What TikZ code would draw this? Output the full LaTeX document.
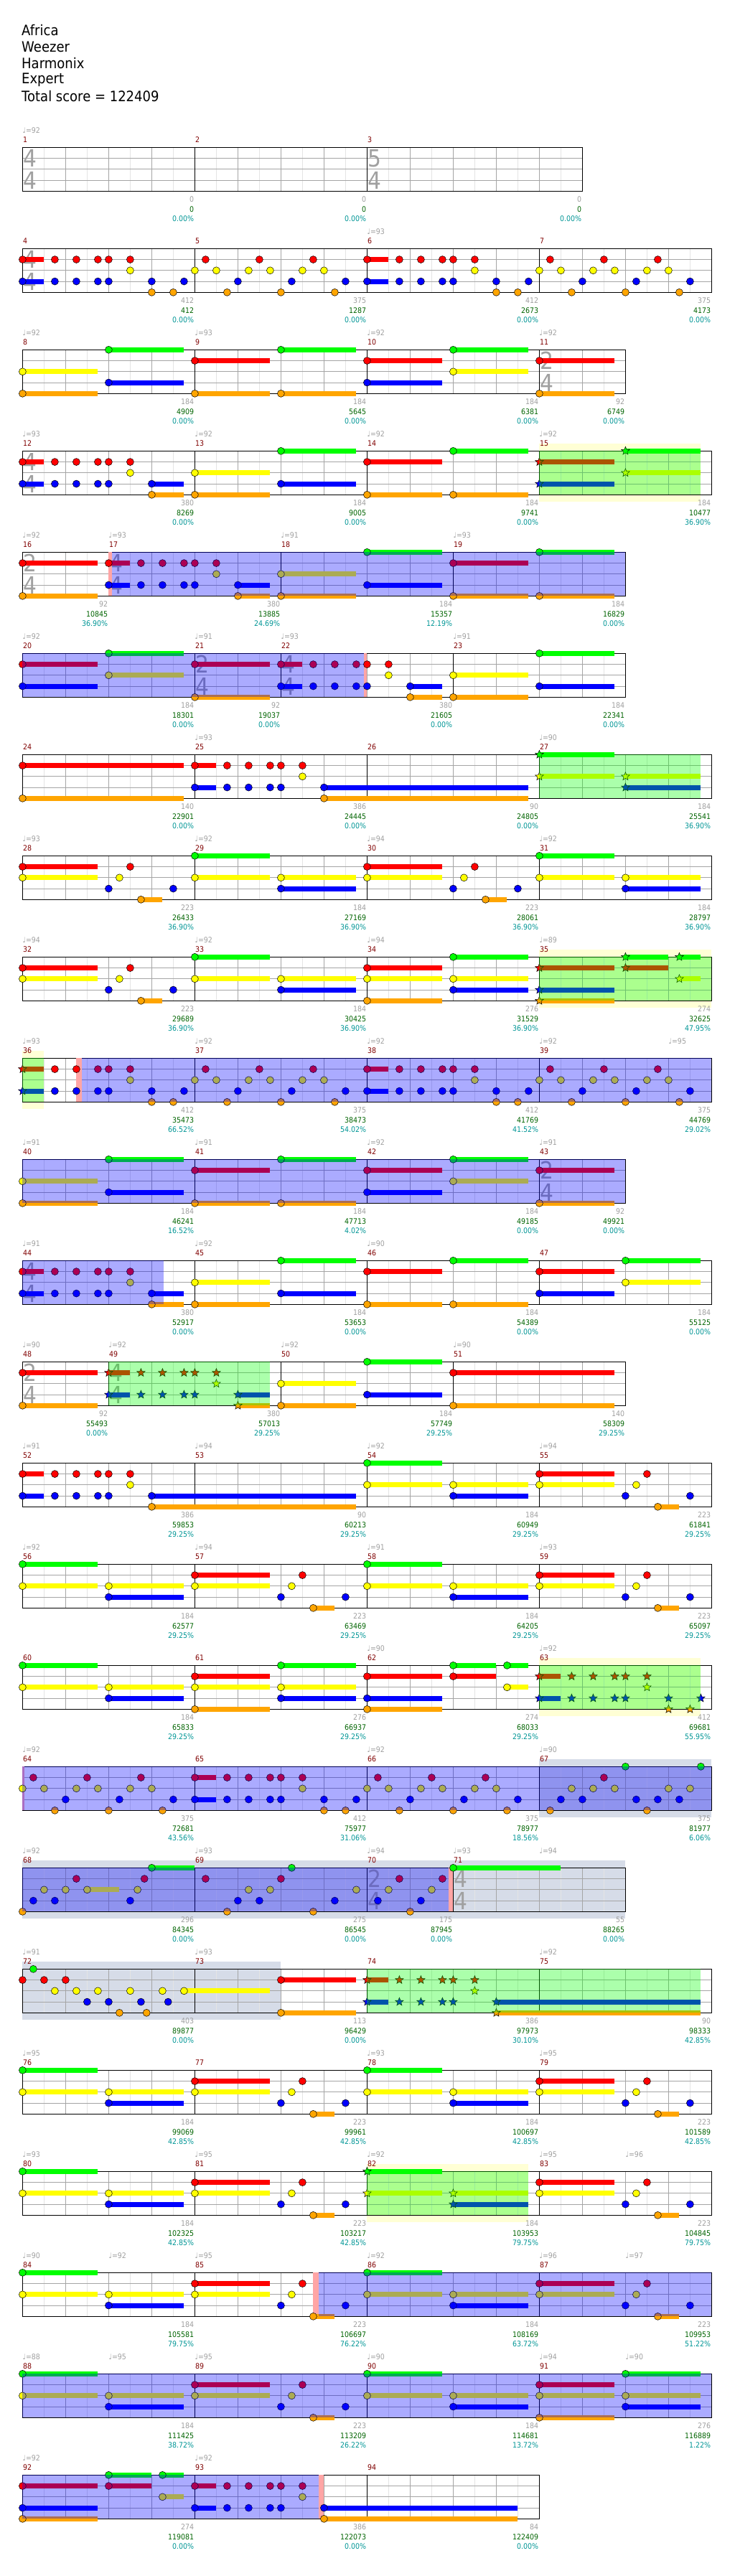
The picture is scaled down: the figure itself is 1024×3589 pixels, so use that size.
\documentclass[tikz,border=0pt]{standalone}
\usepackage{fontspec}
\setmainfont{DejaVu Sans}[FakeStretch=0.9]

\definecolor{fretG}{RGB}{0,255,0}
\definecolor{fretR}{RGB}{255,0,0}
\definecolor{fretY}{RGB}{255,255,0}
\definecolor{fretB}{RGB}{0,0,255}
\definecolor{fretO}{RGB}{255,165,0}
\colorlet{lane0}{fretG}
\colorlet{lane1}{fretR}
\colorlet{lane2}{fretY}
\colorlet{lane3}{fretB}
\colorlet{lane4}{fretO}
\definecolor{barnum}{RGB}{128,0,0}
\definecolor{ptsgray}{RGB}{160,160,160}
\definecolor{ptsgreen}{RGB}{0,100,0}
\definecolor{pcteal}{RGB}{0,150,150}
\definecolor{phraseyel}{RGB}{255,255,213}
\definecolor{soloblue}{RGB}{214,220,232}
\definecolor{spred}{RGB}{255,165,165}
\definecolor{gridlt}{RGB}{228,228,228}
\definecolor{gridmd}{RGB}{165,165,165}

\newcommand\smallf{\fontsize{10.5}{12}\selectfont}
\newcommand\titlef{\fontsize{20}{24}\selectfont}
\newcommand\sigf{\fontsize{33}{36}\selectfont}

\tikzset{
  row/.style={xshift=31.4pt, yshift={-205.3pt-(#1-1)*141pt}, x=60pt, y=-15.25pt},
  songinfo/.style={anchor=west, inner sep=0pt, font=\titlef},
  halfline/.style={draw=gridlt, line width=.6pt},
  beatline/.style={draw=gridmd, line width=.6pt},
  laneline/.style={draw=gridmd, line width=.9pt},
  barline/.style={draw=black, line width=.6pt},
  frame/.style={draw=black, line width=1pt},
  sustain/.style={line width=7pt},
  gemhead/.style={draw=black, line width=.5pt},
  spact/.style={fill=blue, fill opacity=.33},
  spphrase/.style={fill=fretG, fill opacity=.33},
  tsig/.style={anchor=base west, inner sep=0pt, xshift=1pt, text=ptsgray, font=\sigf},
  barno/.style={anchor=west, inner sep=0pt, xshift=.5pt, yshift=11pt, text=barnum, font=\smallf},
  tempo/.style={anchor=west, inner sep=0pt, yshift=24pt, text=ptsgray, font=\smallf},
  pts/.style={anchor=east, inner sep=0pt, xshift=-1pt, yshift=-11pt, text=ptsgray, font=\smallf},
  tot/.style={pts, yshift=-14pt, text=ptsgreen},
  pct/.style={pts, yshift=-27pt, text=pcteal}
}

% one fret gem: lane, beat, sustain length
\newcommand\gem[3]{%
  \ifdim #3pt>0pt \draw[sustain, draw=lane#1] (#2,#1) -- ++(#3,0);\fi
  \filldraw[gemhead, fill=lane#1] (#2,#1) circle (5pt);}
% star power gem
\newcommand\sgem[3]{%
  \ifdim #3pt>0pt \draw[sustain, draw=lane#1] (#2,#1) -- ++(#3,0);\fi
  \filldraw[gemhead, fill=lane#1] (#2,#1) +(90:6pt) -- +(126:2.6pt) -- +(162:6pt) -- +(198:2.6pt) -- +(234:6pt) -- +(270:2.6pt) -- +(306:6pt) -- +(342:2.6pt) -- +(18:6pt) -- +(54:2.6pt) -- cycle;}
\newcommand\gems[3][\gem]{%
  \foreach \gl/\gb/\gs in {#3}{\pgfmathsetmacro\bb{\gb+#2}#1{\gl}{\bb}{\gs}}}

% recurring riffs
\newcommand\riffA[2][\gem]{\gems[#1]{#2}{1/0/.5,1/.75/0,1/1.25/0,1/1.75/0,1/2/0,1/2.5/0,2/2.5/0,3/0/.5,3/.75/0,3/1.25/0,3/1.75/0,3/2/0}}
\newcommand\riffAt[2][\gem]{\gems[#1]{#2}{3/3/0,3/3.75/0,4/3/0,4/3.5/0}}
\newcommand\riffB[2][\gem]{\gems[#1]{#2}{1/.25/0,1/1.5/0,1/2.75/0,2/0/0,2/.5/0,2/1.25/0,2/1.75/0,2/2.5/0,2/3/0,3/1/0,3/2.25/0,3/3.5/0,4/.75/0,4/2/0,4/3.25/0}}
\newcommand\riffC[2][\gem]{\gems[#1]{#2}{1/0/1.75,2/0/1.75,3/2/0,2/2.25/0,1/2.5/0,4/2.75/.5,3/3.5/0}}
\newcommand\riffD[2][\gem]{\gems[#1]{#2}{0/0/1.75,2/0/1.75,2/2/1.75,3/2/1.75}}
\newcommand\riffE[2][\gem]{\gems[#1]{#2}{1/0/1.75,2/0/1.75,4/0/1.75,0/2/1.75,2/2/1.75,3/2/1.75}}
\newcommand\riffF[2][\gem]{\gems[#1]{#2}{1/0/1.75,3/0/1.75,4/0/1.75,0/2/1,1/2/1,0/3.25/.5,2/3.25/.5}}
\newcommand\riffG[2][\gem]{\gems[#1]{#2}{2/0/1.75,4/0/1.75,0/2/1.75,3/2/1.75}}
\newcommand\riffH[2][\gem]{\gems[#1]{#2}{1/0/1.75,4/0/1.75,0/2/1.75,4/2/1.75}}
\newcommand\riffI[2][\gem]{\gems[#1]{#2}{1/0/1.75,3/0/1.75,0/2/1.75,2/2/1.75}}
\newcommand\riffJ[2][\gem]{\gems[#1]{#2}{1/0/1.75,4/0/1.75}}

% staff: width in beats, measure lines
\newcommand\staff[2]{%
  \pgfmathtruncatemacro\nhalf{2*#1}
  \foreach \i in {1,...,\nhalf}{\draw[halfline] (\i/2,0) -- (\i/2,4);}
  \foreach \i in {1,...,#1}{\draw[beatline] (\i,0) -- (\i,4);}
  \foreach \i in {1,2,3}{\draw[laneline] (0,\i) -- (#1,\i);}
  \foreach \i in {#2}{\draw[barline] (\i,0) -- (\i,4);}
  \draw[frame] (0,0) rectangle (#1,4);}
\newcommand\tsig[4]{\node[tsig] (sig#4a) at (#1,1.77) {#2}; \node[tsig] (sig#4b) at (#1,3.8) {#3};}
\newcommand\spon[2]{\fill[spact] (#1,0) rectangle (#2,4);}
\newcommand\phrase[2]{\fill[spphrase] (#1,0) rectangle (#2,4);}
\newcommand\phrasebg[2]{\fill[phraseyel] (#1,-.66) rectangle (#2,4.66);}
\newcommand\solobg[2]{\fill[soloblue] (#1,-.66) rectangle (#2,4.66);}
\newcommand\spmark[2]{\fill[spred] (#1,0) rectangle (#2,4);}
\newcommand\meas[3]{\node[barno] (m#2) at (#1,0) {#2};
  \if\relax\detokenize{#3}\relax\else\node[tempo] (t#2) at (#1,0) {♩=#3};\fi}
\newcommand\tempoat[3]{\node[tempo] (#1) at (#2,0) {♩=#3};}
\newcommand\tally[5]{\node[pts] (p#2) at (#1,4) {#3};
  \node[tot] (s#2) at (#1,4) {#4};
  \node[pct] (c#2) at (#1,4) {#5\%};}

\begin{document}
\begin{tikzpicture}
\fill[white] (0,0) rectangle (1024pt,-3589pt);
\useasboundingbox (0,0) rectangle (1024pt,-3589pt);

\node[songinfo] (song) at (30pt,-42pt) {Africa};
\node[songinfo] (band) at (30pt,-65pt) {Weezer};
\node[songinfo] (chart) at (30pt,-88pt) {Harmonix};
\node[songinfo] (level) at (30pt,-111pt) {Expert};
\node[songinfo] (score) at (30pt,-134pt) {Total score = 122409};

% 1-3
\begin{scope}[row=1]
  \staff{13}{4,8}
  \tsig{0}{4}{4}{1}\tsig{8}{5}{4}{3}
  \meas{0}{1}{92}\meas{4}{2}{}\meas{8}{3}{}
  \tally{4}{1}{0}{0}{0.00}\tally{8}{2}{0}{0}{0.00}\tally{13}{3}{0}{0}{0.00}
\end{scope}

% 4-7
\begin{scope}[row=2]
  \staff{16}{4,8,12}
  \tsig{0}{4}{4}{4}
  \riffA{0}\riffAt{0}\riffB{4}\riffA{8}\riffAt{8}\riffB{12}
  \meas{0}{4}{}\meas{4}{5}{}\meas{8}{6}{93}\meas{12}{7}{}
  \tally{4}{4}{412}{412}{0.00}\tally{8}{5}{375}{1287}{0.00}\tally{12}{6}{412}{2673}{0.00}\tally{16}{7}{375}{4173}{0.00}
\end{scope}

% 8-11
\begin{scope}[row=3]
  \staff{14}{4,8,12}
  \tsig{12}{2}{4}{11}
  \riffG{0}\riffH{4}\riffI{8}\riffJ{12}
  \meas{0}{8}{92}\meas{4}{9}{93}\meas{8}{10}{92}\meas{12}{11}{92}
  \tally{4}{8}{184}{4909}{0.00}\tally{8}{9}{184}{5645}{0.00}\tally{12}{10}{184}{6381}{0.00}\tally{14}{11}{92}{6749}{0.00}
\end{scope}

% 12-15
\begin{scope}[row=4]
  \phrasebg{12}{15.75}
  \staff{16}{4,8,12}
  \tsig{0}{4}{4}{12}
  \riffA{0}\gems{0}{3/3/.75,4/3/.75}\riffG{4}\riffH{8}\riffI[\sgem]{12}
  \phrase{12}{15.75}
  \meas{0}{12}{93}\meas{4}{13}{92}\meas{8}{14}{92}\meas{12}{15}{92}
  \tally{4}{12}{380}{8269}{0.00}\tally{8}{13}{184}{9005}{0.00}\tally{12}{14}{184}{9741}{0.00}\tally{16}{15}{184}{10477}{36.90}
\end{scope}

% 16-19
\begin{scope}[row=5]
  \staff{14}{2,6,10}
  \tsig{0}{2}{4}{16}\tsig{2}{4}{4}{17}
  \spmark{2}{2.08}
  \riffJ{0}\riffA{2}\gems{2}{3/3/.75,4/3/.75}\riffG{6}\riffH{10}
  \spon{2.08}{14}
  \meas{0}{16}{92}\meas{2}{17}{93}\meas{6}{18}{91}\meas{10}{19}{93}
  \tally{2}{16}{92}{10845}{36.90}\tally{6}{17}{380}{13885}{24.69}\tally{10}{18}{184}{15357}{12.19}\tally{14}{19}{184}{16829}{0.00}
\end{scope}

% 20-23
\begin{scope}[row=6]
  \staff{14}{4,6,10}
  \tsig{4}{2}{4}{21}\tsig{6}{4}{4}{22}
  \spmark{7.92}{8}
  \riffI{0}\riffJ{4}\riffA{6}\gems{6}{3/3/.75,4/3/.75}\riffG{10}
  \spon{0}{7.92}
  \meas{0}{20}{92}\meas{4}{21}{91}\meas{6}{22}{93}\meas{10}{23}{91}
  \tally{4}{20}{184}{18301}{0.00}\tally{6}{21}{92}{19037}{0.00}\tally{10}{22}{380}{21605}{0.00}\tally{14}{23}{184}{22341}{0.00}
\end{scope}

% 24-27
\begin{scope}[row=7]
  \staff{16}{4,8,12}
  \gems{0}{1/0/3.75,4/0/3.75}\riffA{4}\gems{4}{3/3/4.75,4/3/4.75}\riffD[\sgem]{12}
  \phrase{12}{15.75}
  \meas{0}{24}{}\meas{4}{25}{93}\meas{8}{26}{}\meas{12}{27}{90}
  \tally{4}{24}{140}{22901}{0.00}\tally{8}{25}{386}{24445}{0.00}\tally{12}{26}{90}{24805}{0.00}\tally{16}{27}{184}{25541}{36.90}
\end{scope}

% 28-31
\begin{scope}[row=8]
  \staff{16}{4,8,12}
  \riffC{0}\riffD{4}\riffC{8}\riffD{12}
  \meas{0}{28}{93}\meas{4}{29}{92}\meas{8}{30}{94}\meas{12}{31}{92}
  \tally{4}{28}{223}{26433}{36.90}\tally{8}{29}{184}{27169}{36.90}\tally{12}{30}{223}{28061}{36.90}\tally{16}{31}{184}{28797}{36.90}
\end{scope}

% 32-35
\begin{scope}[row=9]
  \phrasebg{12}{16}
  \staff{16}{4,8,12}
  \riffC{0}\riffD{4}\riffE{8}\riffF[\sgem]{12}
  \phrase{12}{16}
  \meas{0}{32}{94}\meas{4}{33}{92}\meas{8}{34}{94}\meas{12}{35}{89}
  \tally{4}{32}{223}{29689}{36.90}\tally{8}{33}{184}{30425}{36.90}\tally{12}{34}{276}{31529}{36.90}\tally{16}{35}{274}{32625}{47.95}
\end{scope}

% 36-39
\begin{scope}[row=10]
  \phrasebg{0}{.5}
  \staff{16}{4,8,12}
  \spmark{1.25}{1.38}
  \gems[\sgem]{0}{1/0/.5,3/0/.5}
  \gems{0}{1/.75/0,1/1.25/0,1/1.75/0,1/2/0,1/2.5/0,2/2.5/0,3/.75/0,3/1.25/0,3/1.75/0,3/2/0}
  \riffAt{0}\riffB{4}\riffA{8}\riffAt{8}\riffB{12}
  \phrase{0}{.5}\spon{1.38}{16}
  \meas{0}{36}{93}\meas{4}{37}{92}\meas{8}{38}{92}\meas{12}{39}{92}\tempoat{t39b}{15}{95}
  \tally{4}{36}{412}{35473}{66.52}\tally{8}{37}{375}{38473}{54.02}\tally{12}{38}{412}{41769}{41.52}\tally{16}{39}{375}{44769}{29.02}
\end{scope}

% 40-43
\begin{scope}[row=11]
  \staff{14}{4,8,12}
  \tsig{12}{2}{4}{43}
  \riffG{0}\riffH{4}\riffI{8}\riffJ{12}
  \spon{0}{14}
  \meas{0}{40}{91}\meas{4}{41}{91}\meas{8}{42}{92}\meas{12}{43}{91}
  \tally{4}{40}{184}{46241}{16.52}\tally{8}{41}{184}{47713}{4.02}\tally{12}{42}{184}{49185}{0.00}\tally{14}{43}{92}{49921}{0.00}
\end{scope}

% 44-47
\begin{scope}[row=12]
  \staff{16}{4,8,12}
  \tsig{0}{4}{4}{44}
  \riffA{0}\gems{0}{3/3/.75,4/3/.75}\riffG{4}\riffH{8}\riffI{12}
  \spon{0}{3.27}
  \meas{0}{44}{91}\meas{4}{45}{92}\meas{8}{46}{90}\meas{12}{47}{}
  \tally{4}{44}{380}{52917}{0.00}\tally{8}{45}{184}{53653}{0.00}\tally{12}{46}{184}{54389}{0.00}\tally{16}{47}{184}{55125}{0.00}
\end{scope}

% 48-51
\begin{scope}[row=13]
  \staff{14}{2,6,10}
  \tsig{0}{2}{4}{48}\tsig{2}{4}{4}{49}
  \riffJ{0}\riffA[\sgem]{2}\gems[\sgem]{2}{3/3/.75,4/3/.75}\riffG{6}\gems{10}{1/0/3.75,4/0/3.75}
  \phrase{2}{5.75}
  \meas{0}{48}{90}\meas{2}{49}{92}\meas{6}{50}{92}\meas{10}{51}{90}
  \tally{2}{48}{92}{55493}{0.00}\tally{6}{49}{380}{57013}{29.25}\tally{10}{50}{184}{57749}{29.25}\tally{14}{51}{140}{58309}{29.25}
\end{scope}

% 52-55
\begin{scope}[row=14]
  \staff{16}{4,8,12}
  \riffA{0}\gems{0}{3/3/4.75,4/3/4.75}\riffD{8}\riffC{12}
  \meas{0}{52}{91}\meas{4}{53}{94}\meas{8}{54}{92}\meas{12}{55}{94}
  \tally{4}{52}{386}{59853}{29.25}\tally{8}{53}{90}{60213}{29.25}\tally{12}{54}{184}{60949}{29.25}\tally{16}{55}{223}{61841}{29.25}
\end{scope}

% 56-59
\begin{scope}[row=15]
  \staff{16}{4,8,12}
  \riffD{0}\riffC{4}\riffD{8}\riffC{12}
  \meas{0}{56}{92}\meas{4}{57}{94}\meas{8}{58}{91}\meas{12}{59}{93}
  \tally{4}{56}{184}{62577}{29.25}\tally{8}{57}{223}{63469}{29.25}\tally{12}{58}{184}{64205}{29.25}\tally{16}{59}{223}{65097}{29.25}
\end{scope}

% 60-63
\begin{scope}[row=16]
  \phrasebg{12}{15.75}
  \staff{16}{4,8,12}
  \riffD{0}\riffE{4}\riffF{8}\riffA[\sgem]{12}\riffAt[\sgem]{12}
  \phrase{12}{15.75}
  \meas{0}{60}{}\meas{4}{61}{}\meas{8}{62}{90}\meas{12}{63}{92}
  \tally{4}{60}{184}{65833}{29.25}\tally{8}{61}{276}{66937}{29.25}\tally{12}{62}{274}{68033}{29.25}\tally{16}{63}{412}{69681}{55.95}
\end{scope}

% 64-67
\begin{scope}[row=17]
  \solobg{12}{16}
  \staff{16}{4,8,12}
  \spmark{0}{.05}
  \riffB{0}\riffA{4}\riffAt{4}\riffB{8}
  \gems{12}{0/2/0,0/3.75/0,1/1.5/0,2/.75/0,2/1.25/0,2/1.75/0,2/3/0,2/3.5/0,3/.5/0,3/1/0,3/2.25/0,3/2.75/0,3/3.25/0,4/.25/0,4/2.5/0}
  \spon{0}{16}
  \meas{0}{64}{92}\meas{4}{65}{}\meas{8}{66}{92}\meas{12}{67}{90}
  \tally{4}{64}{375}{72681}{43.56}\tally{8}{65}{412}{75977}{31.06}\tally{12}{66}{375}{78977}{18.56}\tally{16}{67}{375}{81977}{6.06}
\end{scope}

% 68-71
\begin{scope}[row=18]
  \solobg{0}{14}
  \staff{14}{4,8,10}
  \tsig{8}{2}{4}{70}\tsig{10}{4}{4}{71}
  \spmark{9.9}{10}
  \gems{0}{4/0/0,3/.25/0,3/.75/0,3/2.5/0,2/.5/0,2/1/0,2/1.5/.75,2/2.67/0,1/1.25/0,1/2.83/0,0/3/1}
  \gems{4}{1/.25/0,1/2/0,2/1.25/0,2/1.75/0,2/3.75/0,3/1/0,3/1.5/0,3/3.25/0,4/.75/0,4/2.75/0,0/2.25/0}
  \gems{8}{1/.75/0,1/1.75/0,2/.5/0,2/1.5/0,3/.25/0,3/1.25/0,4/1/0,0/2/2.5}
  \spon{0}{9.9}
  \meas{0}{68}{92}\meas{4}{69}{93}\meas{8}{70}{94}\meas{10}{71}{93}\tempoat{t71b}{12}{94}
  \tally{4}{68}{296}{84345}{0.00}\tally{8}{69}{275}{86545}{0.00}\tally{10}{70}{175}{87945}{0.00}\tally{14}{71}{55}{88265}{0.00}
\end{scope}

% 72-75
\begin{scope}[row=19]
  \solobg{0}{6}
  \staff{16}{4,8,12}
  \gems{0}{1/0/0,1/.5/0,1/1/0,0/.25/0,2/.75/0,2/1.25/0,2/1.75/0,2/2.5/0,2/3.25/0,2/3.75/2,3/1.5/0,3/2/0,3/2.75/0,3/3.38/0,4/2.25/0,4/2.88/0}
  \riffJ{6}\riffA[\sgem]{8}\gems[\sgem]{8}{3/3/4.75,4/3/4.75}
  \phrase{8}{15.75}
  \meas{0}{72}{91}\meas{4}{73}{93}\meas{8}{74}{}\meas{12}{75}{92}
  \tally{4}{72}{403}{89877}{0.00}\tally{8}{73}{113}{96429}{0.00}\tally{12}{74}{386}{97973}{30.10}\tally{16}{75}{90}{98333}{42.85}
\end{scope}

% 76-79
\begin{scope}[row=20]
  \staff{16}{4,8,12}
  \riffD{0}\riffC{4}\riffD{8}\riffC{12}
  \meas{0}{76}{95}\meas{4}{77}{}\meas{8}{78}{93}\meas{12}{79}{95}
  \tally{4}{76}{184}{99069}{42.85}\tally{8}{77}{223}{99961}{42.85}\tally{12}{78}{184}{100697}{42.85}\tally{16}{79}{223}{101589}{42.85}
\end{scope}

% 80-83
\begin{scope}[row=21]
  \phrasebg{8}{11.75}
  \staff{16}{4,8,12}
  \riffD{0}\riffC{4}\riffD[\sgem]{8}\riffC{12}
  \phrase{8}{11.75}
  \meas{0}{80}{93}\meas{4}{81}{95}\meas{8}{82}{92}\meas{12}{83}{95}\tempoat{t83b}{14}{96}
  \tally{4}{80}{184}{102325}{42.85}\tally{8}{81}{223}{103217}{42.85}\tally{12}{82}{184}{103953}{79.75}\tally{16}{83}{223}{104845}{79.75}
\end{scope}

% 84-87
\begin{scope}[row=22]
  \staff{16}{4,8,12}
  \spmark{6.75}{6.87}
  \riffD{0}\riffC{4}\riffD{8}\riffC{12}
  \spon{6.87}{16}
  \meas{0}{84}{90}\meas{4}{85}{95}\meas{8}{86}{92}\meas{12}{87}{96}\tempoat{t84b}{2}{92}\tempoat{t87b}{14}{97}
  \tally{4}{84}{184}{105581}{79.75}\tally{8}{85}{223}{106697}{76.22}\tally{12}{86}{184}{108169}{63.72}\tally{16}{87}{223}{109953}{51.22}
\end{scope}

% 88-91
\begin{scope}[row=23]
  \staff{16}{4,8,12}
  \riffD{0}\riffC{4}\riffD{8}\riffE{12}
  \spon{0}{16}
  \meas{0}{88}{88}\meas{4}{89}{95}\meas{8}{90}{90}\meas{12}{91}{94}\tempoat{t88b}{2}{95}\tempoat{t91b}{14}{90}
  \tally{4}{88}{184}{111425}{38.72}\tally{8}{89}{223}{113209}{26.22}\tally{12}{90}{184}{114681}{13.72}\tally{16}{91}{276}{116889}{1.22}
\end{scope}

% 92-94
\begin{scope}[row=24]
  \staff{12}{4,8}
  \spmark{6.87}{7}
  \riffF{0}\riffA{4}\gems{4}{3/3/4.5,4/3/4.5}
  \spon{0}{6.87}
  \meas{0}{92}{92}\meas{4}{93}{92}\meas{8}{94}{}
  \tally{4}{92}{274}{119081}{0.00}\tally{8}{93}{386}{122073}{0.00}\tally{12}{94}{84}{122409}{0.00}
\end{scope}
\end{tikzpicture}
\end{document}
